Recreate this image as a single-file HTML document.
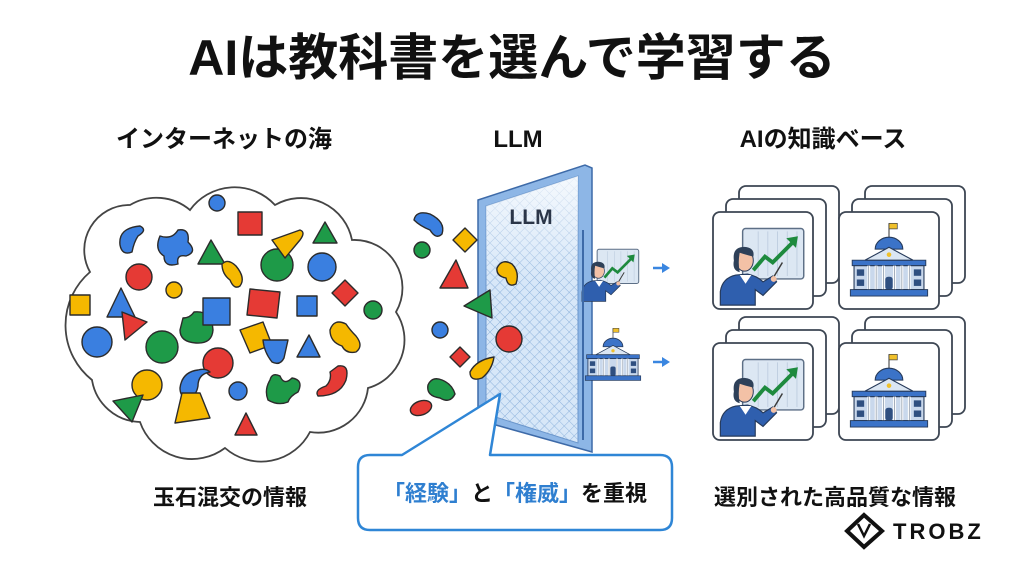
<!DOCTYPE html>
<html><head><meta charset="utf-8"><style>
html,body{margin:0;padding:0;background:#fff;}
svg{display:block;}
text{font-family:"Liberation Sans","Noto Sans CJK JP",sans-serif;font-weight:bold;}
</style></head><body>
<svg width="1024" height="572" viewBox="0 0 1024 572" xmlns="http://www.w3.org/2000/svg">
<defs>
<pattern id="mesh" width="7" height="7" patternUnits="userSpaceOnUse" patternTransform="rotate(45)">
<rect width="7" height="7" fill="#d7e7f8"/>
<path d="M0 0H7M0 0V7" stroke="#8fb3dc" stroke-width="1"/>
</pattern>
<linearGradient id="glow" x1="0" y1="0" x2="0" y2="1">
<stop offset="0" stop-color="#fff" stop-opacity="0.75"/><stop offset="0.4" stop-color="#fff" stop-opacity="0"/>
</linearGradient>
<symbol id="pres" viewBox="0 0 100 100">
<rect x="29" y="17" width="63" height="52" rx="3" fill="#dce7f3" stroke="#5d6f86" stroke-width="1.5"/>
<path d="M45 20V66M55 20V66M65 20V66M75 20V66M85 20V66" stroke="#b9c9dc" stroke-width="0.8"/>
<path d="M40 60L52 46L60 52L80 32" fill="none" stroke="#1e8a3e" stroke-width="4"/>
<path d="M74 27L86 25L84 37Z" fill="#1e8a3e"/>
<line x1="58" y1="72" x2="70" y2="52" stroke="#3b3b3b" stroke-width="1.5"/>
<path d="M6 96V82Q8 68 22 65L34 64Q44 66 50 72L60 66L64 72L50 86L42 80V96Z" fill="#2f5fae" stroke="#263a5a" stroke-width="1.2"/>
<path d="M26 65L32 74L38 65Z" fill="#fff"/>
<ellipse cx="31" cy="50" rx="9" ry="11" fill="#f3c1a6" stroke="#263a5a" stroke-width="1"/>
<path d="M20 50Q18 36 31 36Q42 37 40 46Q32 44 26 42Q24 52 26 62Q18 60 20 50Z" fill="#2e4058"/>
<circle cx="61" cy="69" r="3" fill="#f3c1a6"/>
</symbol>
<symbol id="bldg" viewBox="0 0 100 100">
<line x1="50" y1="8" x2="50" y2="26" stroke="#444" stroke-width="1.2"/>
<rect x="50" y="8" width="9" height="6" fill="#f0c02a" stroke="#444" stroke-width="0.8"/>
<path d="M35 36A15 13 0 0 1 65 36Z" fill="#3b73c8" stroke="#263a5a" stroke-width="1.2"/>
<path d="M10 48H90V54H10Z" fill="#3b73c8" stroke="#263a5a" stroke-width="1"/>
<path d="M24 48L50 34L76 48Z" fill="#dbe6f3" stroke="#263a5a" stroke-width="1.2"/>
<circle cx="50" cy="42" r="2.5" fill="#f0c02a"/>
<rect x="12" y="54" width="76" height="26" fill="#c9d8ec" stroke="#263a5a" stroke-width="1.2"/>
<path d="M28 54V80M36 54V80M44 54V80M56 54V80M64 54V80M72 54V80" stroke="#fff" stroke-width="3"/>
<path d="M28 54V80M36 54V80M44 54V80M56 54V80M64 54V80M72 54V80" stroke="#5d6f86" stroke-width="0.6"/>
<rect x="46" y="66" width="8" height="14" rx="3" fill="#2f4f80"/>
<rect x="15" y="58" width="8" height="7" fill="#2f4f80"/><rect x="15" y="69" width="8" height="7" fill="#2f4f80"/>
<rect x="77" y="58" width="8" height="7" fill="#2f4f80"/><rect x="77" y="69" width="8" height="7" fill="#2f4f80"/>
<rect x="8" y="80" width="84" height="7" fill="#3b73c8" stroke="#263a5a" stroke-width="1"/>
</symbol>
<g id="card">
<rect x="26" y="-26" width="100" height="97" rx="7" fill="#fff" stroke="#3d4653" stroke-width="1.8"/>
<rect x="13" y="-13" width="100" height="97" rx="7" fill="#fff" stroke="#3d4653" stroke-width="1.8"/>
<rect x="0" y="0" width="100" height="97" rx="7" fill="#fff" stroke="#3d4653" stroke-width="1.8"/>
</g>
</defs>

<text x="512" y="75" font-size="50" text-anchor="middle" fill="#111" font-weight="900">AIは教科書を選んで学習する</text>
<text x="224" y="147" font-size="24" text-anchor="middle" fill="#111">インターネットの海</text>
<text x="518" y="147" font-size="24" text-anchor="middle" fill="#111">LLM</text>
<text x="823" y="147" font-size="24" text-anchor="middle" fill="#111">AIの知識ベース</text>

<!-- cloud -->
<path d="M90 272A45 45 0 0 1 130 205A52 52 0 0 1 190 210A55 55 0 0 1 275 205A52 52 0 0 1 352 240A48 48 0 0 1 396 312A50 50 0 0 1 368 388A50 50 0 0 1 310 432A55 55 0 0 1 225 448A55 55 0 0 1 140 422A50 50 0 0 1 92 380A70 70 0 0 1 90 272Z" fill="#fff" stroke="#444" stroke-width="1.8"/>
<g stroke="#2b2b2b" stroke-width="1.4" stroke-linejoin="round">
<circle cx="217" cy="203" r="8" fill="#3a7fe0"/>
<rect x="238" y="212" width="24" height="23" fill="#e53a35"/>
<path d="M325 222L337 243H313Z" fill="#1e9a48"/>
<path d="M120 245Q118 228 140 226Q148 230 138 236Q134 242 132 252Q122 256 120 245Z" fill="#3a7fe0"/>
<path d="M160 236Q172 240 178 230Q190 228 188 242Q198 252 186 256Q176 254 178 264Q164 268 164 256Q154 250 160 236Z" fill="#3a7fe0"/>
<path d="M211 240L225 264H198Z" fill="#1e9a48"/>
<path d="M222 264Q228 258 236 266Q246 278 240 286Q234 290 230 280Q222 274 222 264Z" fill="#f5b800"/>
<circle cx="277" cy="265" r="16" fill="#1e9a48"/>
<path d="M272 240L300 230Q306 232 300 240L285 258Z" fill="#f5b800"/>
<circle cx="322" cy="267" r="14" fill="#3a7fe0"/>
<circle cx="139" cy="277" r="13" fill="#e53a35"/>
<circle cx="174" cy="290" r="8" fill="#f5b800"/>
<path d="M345 280L358 293L345 306L332 293Z" fill="#e53a35"/>
<rect x="70" y="295" width="20" height="20" fill="#f5b800"/>
<path d="M121 288L135 317H107Z" fill="#3a7fe0"/>
<path d="M122 312L147 322L125 340Z" fill="#e53a35"/>
<path d="M183 318Q190 318 194 312Q212 310 213 330Q212 344 196 343Q180 342 180 330Z" fill="#1e9a48"/>
<rect x="203" y="298" width="27" height="27" fill="#3a7fe0"/>
<path d="M250 289L280 292L277 318L247 315Z" fill="#e53a35"/>
<rect x="297" y="296" width="20" height="20" fill="#3a7fe0"/>
<circle cx="373" cy="310" r="9" fill="#1e9a48"/>
<circle cx="97" cy="342" r="15" fill="#3a7fe0"/>
<circle cx="162" cy="347" r="16" fill="#1e9a48"/>
<path d="M240 330L263 322L272 345L250 353Z" fill="#f5b800"/>
<path d="M263 340H288L284 358Q280 366 272 362Q264 352 263 340Z" fill="#3a7fe0"/>
<path d="M309 335L320 357H297Z" fill="#3a7fe0"/>
<path d="M330 330Q334 318 346 324Q350 330 356 336Q364 346 356 352Q346 354 342 346Q330 342 330 330Z" fill="#f5b800"/>
<circle cx="218" cy="363" r="15" fill="#e53a35"/>
<circle cx="147" cy="385" r="15" fill="#f5b800"/>
<path d="M180 388Q182 372 198 370Q206 368 210 372Q198 374 198 386Q196 398 186 398Q180 396 180 388Z" fill="#3a7fe0"/>
<circle cx="238" cy="391" r="9" fill="#3a7fe0"/>
<path d="M270 380Q272 372 280 376Q284 386 292 378Q304 380 298 392Q290 396 288 402Q278 406 268 400Q264 390 270 380Z" fill="#1e9a48"/>
<path d="M338 366Q350 364 346 380Q340 396 318 396Q314 390 326 386Q332 380 330 372Z" fill="#e53a35"/>
<path d="M113 401L143 395L132 422Z" fill="#1e9a48"/>
<path d="M182 393H200L210 418L175 423Z" fill="#f5b800"/>
<path d="M246 413L257 435H235Z" fill="#e53a35"/>
</g>

<!-- panel -->
<path d="M478 200L585 165L592 168V452L585 450L478 420Z" fill="#8db6e6" stroke="#3d6aa8" stroke-width="1.5"/>
<path d="M486 206L578 176V443L486 414Z" fill="url(#mesh)" stroke="#6c97cc" stroke-width="1"/>
<path d="M486 206L578 176V443L486 414Z" fill="url(#glow)"/>
<g stroke="#2b2b2b" stroke-width="1.4" stroke-linejoin="round">
<path d="M497 268Q502 258 512 264Q520 272 516 284Q508 288 506 278Q496 276 497 268Z" fill="#f5b800"/>
<circle cx="509" cy="339" r="13" fill="#e53a35"/>
<!-- outside shapes -->
<path d="M414 220Q416 210 430 214Q446 222 442 234Q436 240 430 230Q420 226 414 220Z" fill="#3a7fe0"/>
<path d="M465 228L477 240L465 252L453 240Z" fill="#f5b800"/>
<circle cx="422" cy="250" r="8" fill="#1e9a48"/>
<path d="M456 260L468 288H440Z" fill="#e53a35"/>
<path d="M490 290L464 306L492 318Z" fill="#1e9a48"/>
<circle cx="440" cy="330" r="8" fill="#3a7fe0"/>
<path d="M460 347L470 357L460 367L450 357Z" fill="#e53a35"/>
<path d="M470 372Q476 360 494 357Q492 370 482 378Q470 382 470 372Z" fill="#f5b800"/>
<path d="M428 385Q432 376 442 380Q452 384 455 394Q450 404 440 398Q426 396 428 385Z" fill="#1e9a48"/>
<ellipse cx="421" cy="408" rx="11" ry="7" fill="#e53a35" transform="rotate(-20 421 408)"/>
</g>
<text x="531" y="224" font-size="21" text-anchor="middle" fill="#2a3548">LLM</text>

<!-- small icons -->
<use href="#pres" x="578" y="238" width="66" height="66"/>
<line x1="583" y1="230" x2="583" y2="440" stroke="#3d6aa8" stroke-width="2"/>
<use href="#bldg" x="580" y="318" width="66" height="76"/>
<path d="M653 268H664" stroke="#3a86e0" stroke-width="2.5"/><path d="M662 263L670 268L662 273Z" fill="#3a86e0"/>
<path d="M653 362H664" stroke="#3a86e0" stroke-width="2.5"/><path d="M662 357L670 362L662 367Z" fill="#3a86e0"/>

<!-- cards -->
<g transform="translate(713,212)"><use href="#card"/><use href="#pres" x="0" y="0" width="100" height="97"/></g>
<g transform="translate(839,212)"><use href="#card"/><use href="#bldg" x="2" y="4" width="96" height="92"/></g>
<g transform="translate(713,343)"><use href="#card"/><use href="#pres" x="0" y="0" width="100" height="97"/></g>
<g transform="translate(839,343)"><use href="#card"/><use href="#bldg" x="2" y="4" width="96" height="92"/></g>

<!-- callout -->
<path d="M370 455H402L500 394L490 455H660Q672 455 672 467V518Q672 530 660 530H370Q358 530 358 518V467Q358 455 370 455Z" fill="#fff" stroke="#2f86d6" stroke-width="2.5" stroke-linejoin="round"/>
<text x="515" y="501" font-size="22" text-anchor="middle" fill="#111"><tspan fill="#2f7fd0">「経験」</tspan>と<tspan fill="#2f7fd0">「権威」</tspan>を重視</text>

<text x="230" y="505" font-size="22" text-anchor="middle" fill="#111">玉石混交の情報</text>
<text x="835" y="505" font-size="22" text-anchor="middle" fill="#111">選別された高品質な情報</text>

<!-- logo -->
<g fill="#111">
<path d="M864 515L882 531L864 547L847 531Z" fill="none" stroke="#111" stroke-width="4"/>
<path d="M864 520V543" stroke="#fff" stroke-width="3"/>
<path d="M858 524L864 536L870 524" fill="none" stroke="#111" stroke-width="2.5"/>
</g>
<text x="893" y="539" font-size="22" fill="#111" font-weight="normal" letter-spacing="3">TROBZ</text>
</svg>
</body></html>
